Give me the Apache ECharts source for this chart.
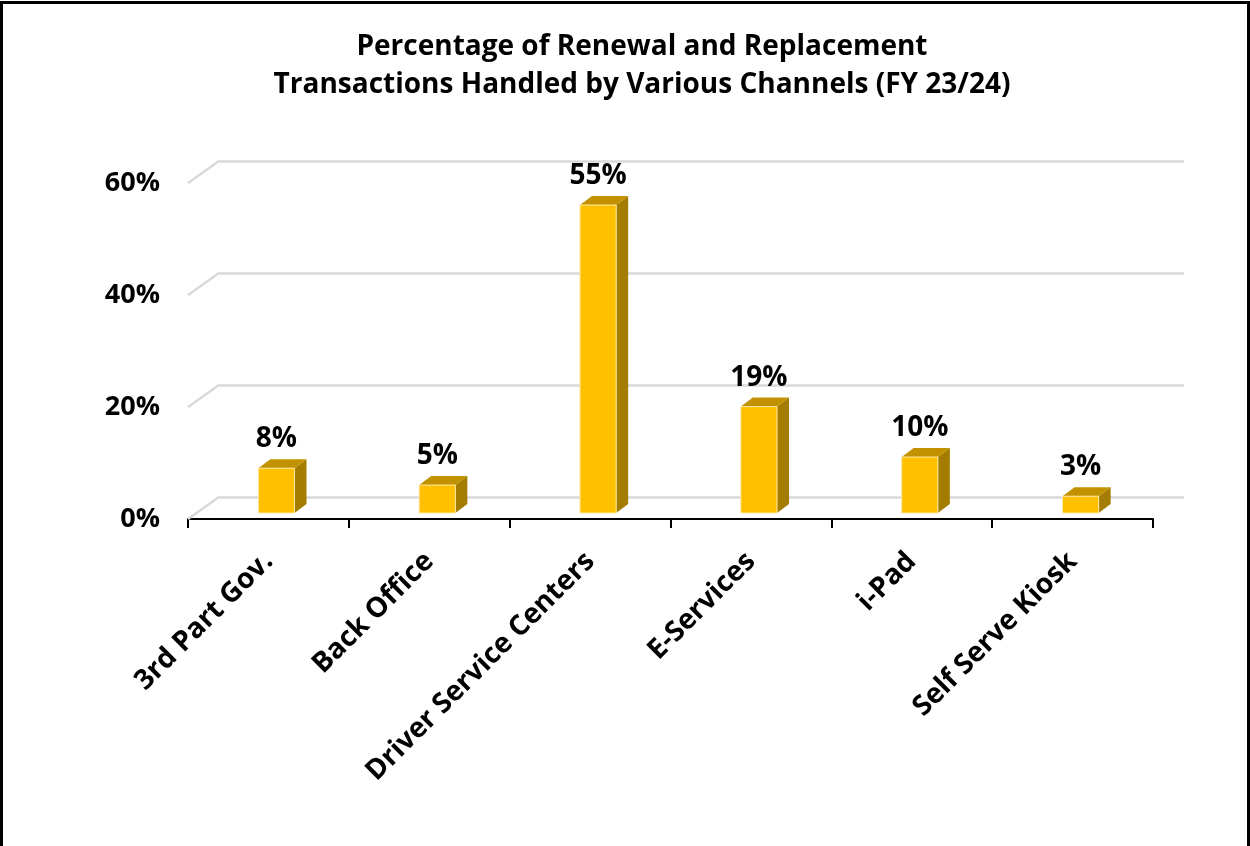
<!DOCTYPE html>
<html>
<head>
<meta charset="utf-8">
<title>Renewal and Replacement Transactions by Channel</title>
<script src="https://cdn.jsdelivr.net/npm/echarts@6/dist/echarts.min.js"></script>
<style>
  html, body { margin: 0; padding: 0; background: #fff; }
  #chart { width: 1250px; height: 846px; }
</style>
</head>
<body>
<div id="chart"></div>
<script>
// 数据
const categories = ['3rd Part Gov.', 'Back Office', 'Driver Service Centers', 'E-Services', 'i-Pad', 'Self Serve Kiosk'];
const values = [8, 5, 55, 19, 10, 3];
const yTicks = [0, 20, 40, 60];

// 伪3D参数
const DEPTH_X = 31, DEPTH_Y = 22;   // 底面深度
const BAR_OFF_X = 8, BAR_OFF_Y = 6; // 柱子在深度方向的位置
const SIDE_X = 12, SIDE_Y = 9;      // 柱子侧面厚度
const FONT = '"Open Sans", "DejaVu Sans", sans-serif';

const chart = echarts.init(document.getElementById('chart'));

chart.setOption({
    backgroundColor: '#fff',
    animation: false,
    title: {
        text: 'Percentage of Renewal and Replacement\nTransactions Handled by Various Channels (FY 23/24)',
        left: 637,
        textAlign: 'center',
        top: 23,
        textStyle: {
            fontFamily: FONT,
            fontWeight: 'bold',
            fontSize: 28,
            lineHeight: 38,
            color: '#000'
        }
    },
    graphic: [{
        type: 'rect',
        shape: { x: 1.5, y: 2.5, width: 1247, height: 900 },
        style: { fill: 'none', stroke: '#000', lineWidth: 3 },
        silent: true,
        z: 100
    }],
    grid: [
        // 前平面
        { left: 188, right: 97, top: 183, bottom: 327 },
        // 后平面（网格线）
        { left: 188 + DEPTH_X, right: 97 - DEPTH_X, top: 183 - DEPTH_Y, bottom: 327 + DEPTH_Y }
    ],
    xAxis: [{
        type: 'category',
        gridIndex: 0,
        data: categories,
        axisLine: { lineStyle: { color: '#000', width: 2 } },
        axisTick: { show: true, length: 9, lineStyle: { color: '#000', width: 2 } },
        axisLabel: {
            rotate: 45,
            margin: 38,
            interval: 0,
            fontFamily: FONT,
            fontWeight: 'bold',
            fontSize: 28,
            color: '#000'
        }
    }, {
        type: 'category',
        gridIndex: 1,
        data: categories,
        show: false
    }],
    yAxis: [{
        type: 'value',
        gridIndex: 0,
        min: 0, max: 60, interval: 20,
        axisLine: { show: false },
        axisTick: { show: false },
        splitLine: { show: false },
        axisLabel: {
            margin: 28,
            formatter: '{value}%',
            fontFamily: FONT,
            fontWeight: 'bold',
            fontSize: 27,
            color: '#000'
        }
    }, {
        type: 'value',
        gridIndex: 1,
        min: 0, max: 60, interval: 20,
        axisLine: { show: false },
        axisTick: { show: false },
        axisLabel: { show: false },
        splitLine: { lineStyle: { color: '#d9d9d9', width: 2.5 } }
    }],
    series: [{
        // 网格线的斜边
        type: 'custom',
        xAxisIndex: 0, yAxisIndex: 0,
        silent: true,
        z: 1,
        data: yTicks.map(v => [0, v]),
        renderItem: (params, api) => {
            const y = api.coord([0, api.value(1)])[1];
            const x = params.coordSys.x;
            return {
                type: 'line',
                shape: { x1: x, y1: y, x2: x + DEPTH_X, y2: y - DEPTH_Y },
                style: { stroke: '#d9d9d9', lineWidth: 2.5 }
            };
        }
    }, {
        type: 'custom',
        xAxisIndex: 0, yAxisIndex: 0,
        z: 5,
        data: values.map((v, i) => [i, v]),
        renderItem: (params, api) => {
            const base = api.coord([api.value(0), 0]);
            const top = api.coord([api.value(0), api.value(1)]);
            const w = api.size([1, 0])[0] * 0.225;
            const cx = top[0] + BAR_OFF_X;
            const x0 = cx - w / 2, x1 = cx + w / 2;
            const yb = base[1] - BAR_OFF_Y, yt = top[1] - BAR_OFF_Y;
            return {
                type: 'group',
                children: [{
                    type: 'polygon',
                    shape: { points: [[x1, yt], [x1 + SIDE_X, yt - SIDE_Y], [x1 + SIDE_X, yb - SIDE_Y], [x1, yb]] },
                    style: { fill: '#A47D00' }
                }, {
                    type: 'polygon',
                    shape: { points: [[x0, yt], [x0 + SIDE_X, yt - SIDE_Y], [x1 + SIDE_X, yt - SIDE_Y], [x1, yt]] },
                    style: { fill: '#C29100' }
                }, {
                    type: 'rect',
                    shape: { x: x0, y: yt, width: w, height: yb - yt },
                    style: { fill: '#FFC000', stroke: '#FFE9A6', lineWidth: 1 }
                }, {
                    type: 'text',
                    style: {
                        text: api.value(1) + '%',
                        x: cx,
                        y: yt - 29,
                        align: 'center',
                        verticalAlign: 'middle',
                        fontFamily: FONT,
                        fontWeight: 'bold',
                        fontSize: 28,
                        fill: '#000'
                    }
                }]
            };
        }
    }]
});
</script>
</body>
</html>
